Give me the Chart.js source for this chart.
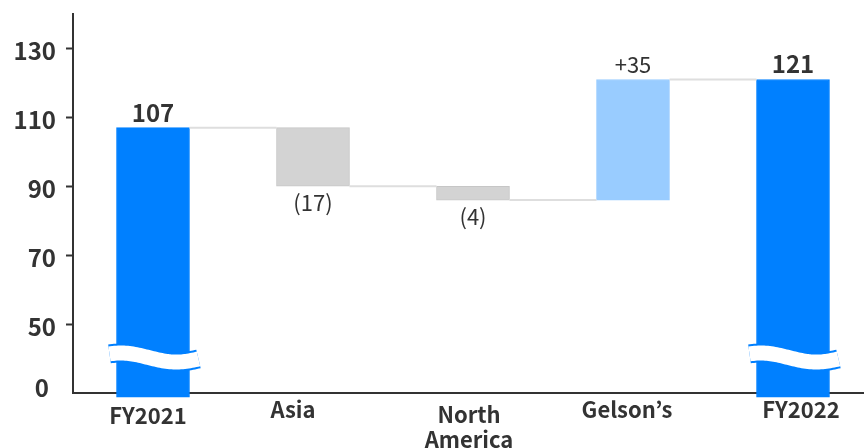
<!DOCTYPE html>
<html>
<head>
<meta charset="utf-8">
<script src="https://cdn.jsdelivr.net/npm/chart.js@4/dist/chart.umd.min.js"></script>
<style>
  html, body { margin: 0; padding: 0; background: #fff; }
</style>
</head>
<body>
<canvas id="chart" width="864" height="448"></canvas>
<script>
// data
const categories = ["FY2021", "Asia", ["North", "America"], "Gelson’s", "FY2022"];
const changes = [107, -17, -4, 35, 121];          // totals for first and last
const isTotal = [true, false, false, false, true];
const valueLabels = ["107", "(17)", "(4)", "+35", "121"];
const yTickValues = [50, 70, 90, 110, 130];
const yTickLabels = ["50", "70", "90", "110", "130"];
const breakLabel = "0";                              // bottom of the broken axis
const axisMin = 30;
const axisMax = 140;

const FONT = "'Noto Sans CJK JP', 'Noto Sans', sans-serif";
const TEXT = "#333";
const BLUE = "#0080ff";
const GREY = "#d3d3d3";
const LIGHT = "#99ccff";

// floating ranges + running levels
let running = 0;
const levels = [];
const ranges = changes.map((v, i) => {
  if (isTotal[i]) {
    running = v;
    levels.push(running);
    return [axisMin - 1.2, v];
  }
  const start = running;
  running += v;
  levels.push(running);
  return [Math.min(start, running), Math.max(start, running)];
});
const fills = changes.map((v, i) => isTotal[i] ? BLUE : v < 0 ? GREY : LIGHT);
const borders = changes.map((v, i) => isTotal[i] ? BLUE : v < 0 ? "#c6c6c6" : LIGHT);

// small per-label nudges so the category names sit like the original
const labelNudge = [
  { dx: -5, dy: 31 }, { dx: -20, dy: 25 }, { dx: -4, dy: 30 },
  { dx: -6, dy: 25 }, { dx: 8, dy: 25 },
];

const extras = {
  id: "extras",
  afterDatasetsDraw(chart) {
    const { ctx, scales: { x, y } } = chart;
    const bars = chart.getDatasetMeta(0).data;
    ctx.save();

    // connectors
    ctx.strokeStyle = "#dedede";
    ctx.lineWidth = 2;
    for (let i = 0; i < bars.length - 1; i++) {
      const a = bars[i], b = bars[i + 1];
      const ly = y.getPixelForValue(levels[i]);
      ctx.beginPath();
      ctx.moveTo(a.x + a.width / 2, ly);
      ctx.lineTo(b.x - b.width / 2, ly);
      ctx.stroke();
    }

    // break mark (white wave with thin blue edges) on the total bars
    const yc = y.getPixelForValue(40.3);
    bars.forEach((b, i) => {
      if (!isTotal[i]) return;
      const x0 = b.x - b.width / 2 - 7;
      const x1 = b.x + b.width / 2 + 9;
      ctx.beginPath();
      for (let k = 0; k <= 50; k++) {
        const t = k / 50;
        const px = x0 + t * (x1 - x0);
        const py = yc - 4.5 * Math.sin(Math.PI * (t * 1.6 + 0.3));
        k === 0 ? ctx.moveTo(px, py) : ctx.lineTo(px, py);
      }
      ctx.lineCap = "butt";
      ctx.lineJoin = "round";
      ctx.strokeStyle = BLUE;
      ctx.lineWidth = 19;
      ctx.stroke();
      ctx.strokeStyle = "#fff";
      ctx.lineWidth = 15;
      ctx.stroke();
    });

    // value labels
    ctx.fillStyle = TEXT;
    ctx.textAlign = "center";
    ctx.textBaseline = "alphabetic";
    bars.forEach((b, i) => {
      const r = ranges[i];
      if (isTotal[i]) {
        ctx.font = `bold 24px ${FONT}`;
        ctx.fillText(valueLabels[i], b.x, y.getPixelForValue(r[1]) - 6);
      } else if (changes[i] < 0) {
        ctx.font = `22px ${FONT}`;
        ctx.fillText(valueLabels[i], b.x, y.getPixelForValue(r[0]) + 24.5);
      } else {
        ctx.font = `22px ${FONT}`;
        ctx.fillText(valueLabels[i], b.x, y.getPixelForValue(r[1]) - 6);
      }
    });

    // category labels
    const axisY = y.getPixelForValue(axisMin);
    ctx.font = `bold 22px ${FONT}`;
    categories.forEach((c, i) => {
      const lines = Array.isArray(c) ? c : [c];
      const cx = x.getPixelForValue(i) + labelNudge[i].dx;
      lines.forEach((ln, j) => {
        ctx.fillText(ln, cx, axisY + labelNudge[i].dy + j * 25);
      });
    });

    // "0" at the axis break
    ctx.font = `bold 24px ${FONT}`;
    ctx.textAlign = "right";
    ctx.fillText(breakLabel, chart.chartArea.left - 24, axisY + 4);
    ctx.restore();
  },
};

new Chart(document.getElementById("chart"), {
  type: "bar",
  data: {
    datasets: [{
      data: ranges.map((r, i) => ({ x: i, y: r })),
      backgroundColor: fills,
      borderColor: borders,
      borderWidth: 1,
      borderSkipped: false,
      barThickness: 73,
      clip: false,
    }],
  },
  options: {
    responsive: false,
    animation: false,
    devicePixelRatio: 1,
    layout: { padding: { top: 14, left: 0, right: 0, bottom: 0 } },
    plugins: { legend: { display: false }, tooltip: { enabled: false } },
    scales: {
      x: {
        type: "linear",
        offset: false,
        min: -0.5,
        max: -0.5 + (864 - 73) / 160,
        z: 1,
        afterBuildTicks: s => { s.ticks = categories.map((_, i) => ({ value: i })); },
        ticks: { display: false },
        grid: { display: false, drawTicks: false },
        border: { color: TEXT, width: 2 },
        afterFit: s => { s.height = 55; s.paddingLeft = 0; s.paddingRight = 0; },
      },
      y: {
        min: axisMin,
        max: axisMax,
        afterBuildTicks: s => { s.ticks = yTickValues.map(v => ({ value: v })); },
        ticks: {
          callback: (v, i) => yTickLabels[i],
          font: { family: FONT, size: 24, weight: "bold" },
          color: TEXT,
          padding: 10,
          labelOffset: 2.5,
        },
        grid: { drawOnChartArea: false, drawTicks: true, tickLength: 7, tickColor: TEXT, tickWidth: 2 },
        border: { color: TEXT, width: 2 },
        afterFit: s => { s.width = 73; s.paddingTop = 0; s.paddingBottom = 0; },
      },
    },
  },
  plugins: [extras],
});
</script>
</body>
</html>
